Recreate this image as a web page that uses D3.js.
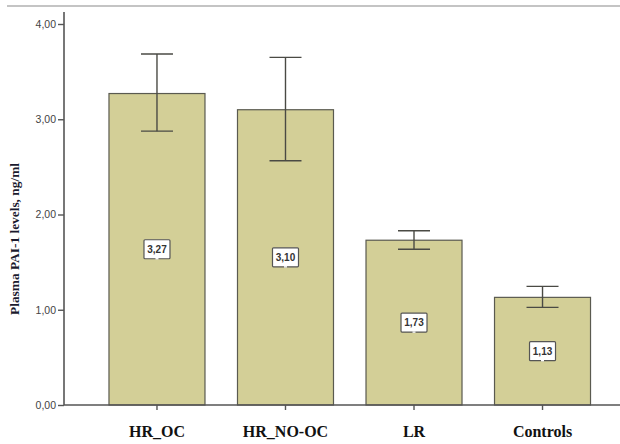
<!DOCTYPE html>
<html>
<head>
<meta charset="utf-8">
<script src="https://cdn.jsdelivr.net/npm/d3@7"></script>
<style>
  html, body { margin: 0; padding: 0; background: #fff; }
  svg { display: block; }
</style>
</head>
<body>
<svg id="chart" width="620" height="444"></svg>
<script>
// Group means of plasma PAI-1 with their error-bar limits
const categories = ["HR_OC", "HR_NO-OC", "LR", "Controls"];
const means = [3.27, 3.10, 1.73, 1.13];
const upper = [3.685, 3.65, 1.83, 1.245];
const lower = [2.875, 2.565, 1.635, 1.025];
const yTicks = [0, 1, 2, 3, 4];
const yTickLabels = ["0,00", "1,00", "2,00", "3,00", "4,00"];
const valueLabels = ["3,27", "3,10", "1,73", "1,13"];
const yTitle = "Plasma PAI-1 levels, ng/ml";

const svg = d3.select("#chart");

const axisX = 64, baseY = 405, topY = 24;

const y = d3.scaleLinear().domain([0, 4]).range([baseY, topY]);
const x = d3.scaleBand()
  .domain(categories)
  .range([axisX, 635.5])
  .paddingInner(0.253)
  .paddingOuter(0.35);

// thin rule across the top
svg.append("line")
  .attr("x1", 7).attr("x2", 620)
  .attr("y1", 6).attr("y2", 6)
  .attr("stroke", "#c4c4c4").attr("stroke-width", 2);

// bars
svg.append("g").selectAll("rect")
  .data(categories)
  .join("rect")
  .attr("x", d => x(d))
  .attr("y", (d, i) => y(means[i]))
  .attr("width", x.bandwidth())
  .attr("height", (d, i) => y(0) - y(means[i]))
  .attr("fill", "#d3cf97")
  .attr("stroke", "#5a5a50")
  .attr("stroke-width", 1.2);

// error bars
const eb = svg.append("g").attr("stroke", "#4a4a44").attr("stroke-width", 1.4);
categories.forEach((c, i) => {
  const cx = x(c) + x.bandwidth() / 2;
  eb.append("line").attr("x1", cx).attr("x2", cx)
    .attr("y1", y(upper[i])).attr("y2", y(lower[i]));
  [upper[i], lower[i]].forEach(v => {
    eb.append("line").attr("x1", cx - 16).attr("x2", cx + 16)
      .attr("y1", y(v)).attr("y2", y(v));
  });
});

// value labels at the middle of each bar
categories.forEach((c, i) => {
  const cx = x(c) + x.bandwidth() / 2;
  const cy = y(means[i] / 2);
  const g = svg.append("g").attr("transform", `translate(${cx},${cy})`);
  g.append("rect")
    .attr("x", -13).attr("y", -9.5)
    .attr("width", 26).attr("height", 19)
    .attr("fill", "#fff")
    .attr("stroke", "#555").attr("stroke-width", 1.2)
    .attr("rx", 1);
  // small pointer notch at the bottom edge of the label box
  g.append("line")
    .attr("x1", -1.5).attr("x2", 1.5)
    .attr("y1", 9.5).attr("y2", 9.5)
    .attr("stroke", "#fff").attr("stroke-width", 1.4);
  g.append("text")
    .attr("text-anchor", "middle")
    .attr("dy", "0.36em")
    .attr("font-family", "Liberation Sans, Arial, sans-serif")
    .attr("font-weight", "bold")
    .attr("font-size", 10)
    .attr("fill", "#333")
    .text(valueLabels[i]);
});

// y axis
const yAxis = d3.axisLeft(y)
  .tickValues(yTicks)
  .tickFormat((d, i) => yTickLabels[i])
  .tickSize(6)
  .tickPadding(2);
const gy = svg.append("g").attr("transform", `translate(${axisX},0)`).call(yAxis);
gy.select(".domain").remove();
gy.selectAll(".tick line").attr("stroke", "#555").attr("stroke-width", 1.4);
gy.selectAll(".tick text")
  .attr("font-family", "Liberation Sans, Arial, sans-serif")
  .attr("font-size", 10.5)
  .attr("fill", "#444");
svg.append("line")
  .attr("x1", axisX).attr("x2", axisX)
  .attr("y1", 12).attr("y2", baseY)
  .attr("stroke", "#555").attr("stroke-width", 1.6);

// x axis
const xAxis = d3.axisBottom(x).tickSize(5).tickPadding(16);
const gx = svg.append("g").attr("transform", `translate(0,${baseY})`).call(xAxis);
gx.select(".domain").remove();
gx.selectAll(".tick line").attr("stroke", "#555").attr("stroke-width", 1.4);
gx.selectAll(".tick text")
  .attr("font-family", "Liberation Serif, Times New Roman, serif")
  .attr("font-weight", "bold")
  .attr("font-size", 16)
  .attr("fill", "#111");
svg.append("line")
  .attr("x1", axisX).attr("x2", 620)
  .attr("y1", baseY).attr("y2", baseY)
  .attr("stroke", "#555").attr("stroke-width", 1.6);

// y axis title
svg.append("text")
  .attr("transform", `translate(19,${(163 + 315) / 2}) rotate(-90)`)
  .attr("text-anchor", "middle")
  .attr("font-family", "Liberation Serif, Times New Roman, serif")
  .attr("font-weight", "bold")
  .attr("font-size", 12.5)
  .attr("textLength", 152)
  .attr("lengthAdjust", "spacingAndGlyphs")
  .attr("fill", "#1a1a2e")
  .text(yTitle);
</script>
</body>
</html>
